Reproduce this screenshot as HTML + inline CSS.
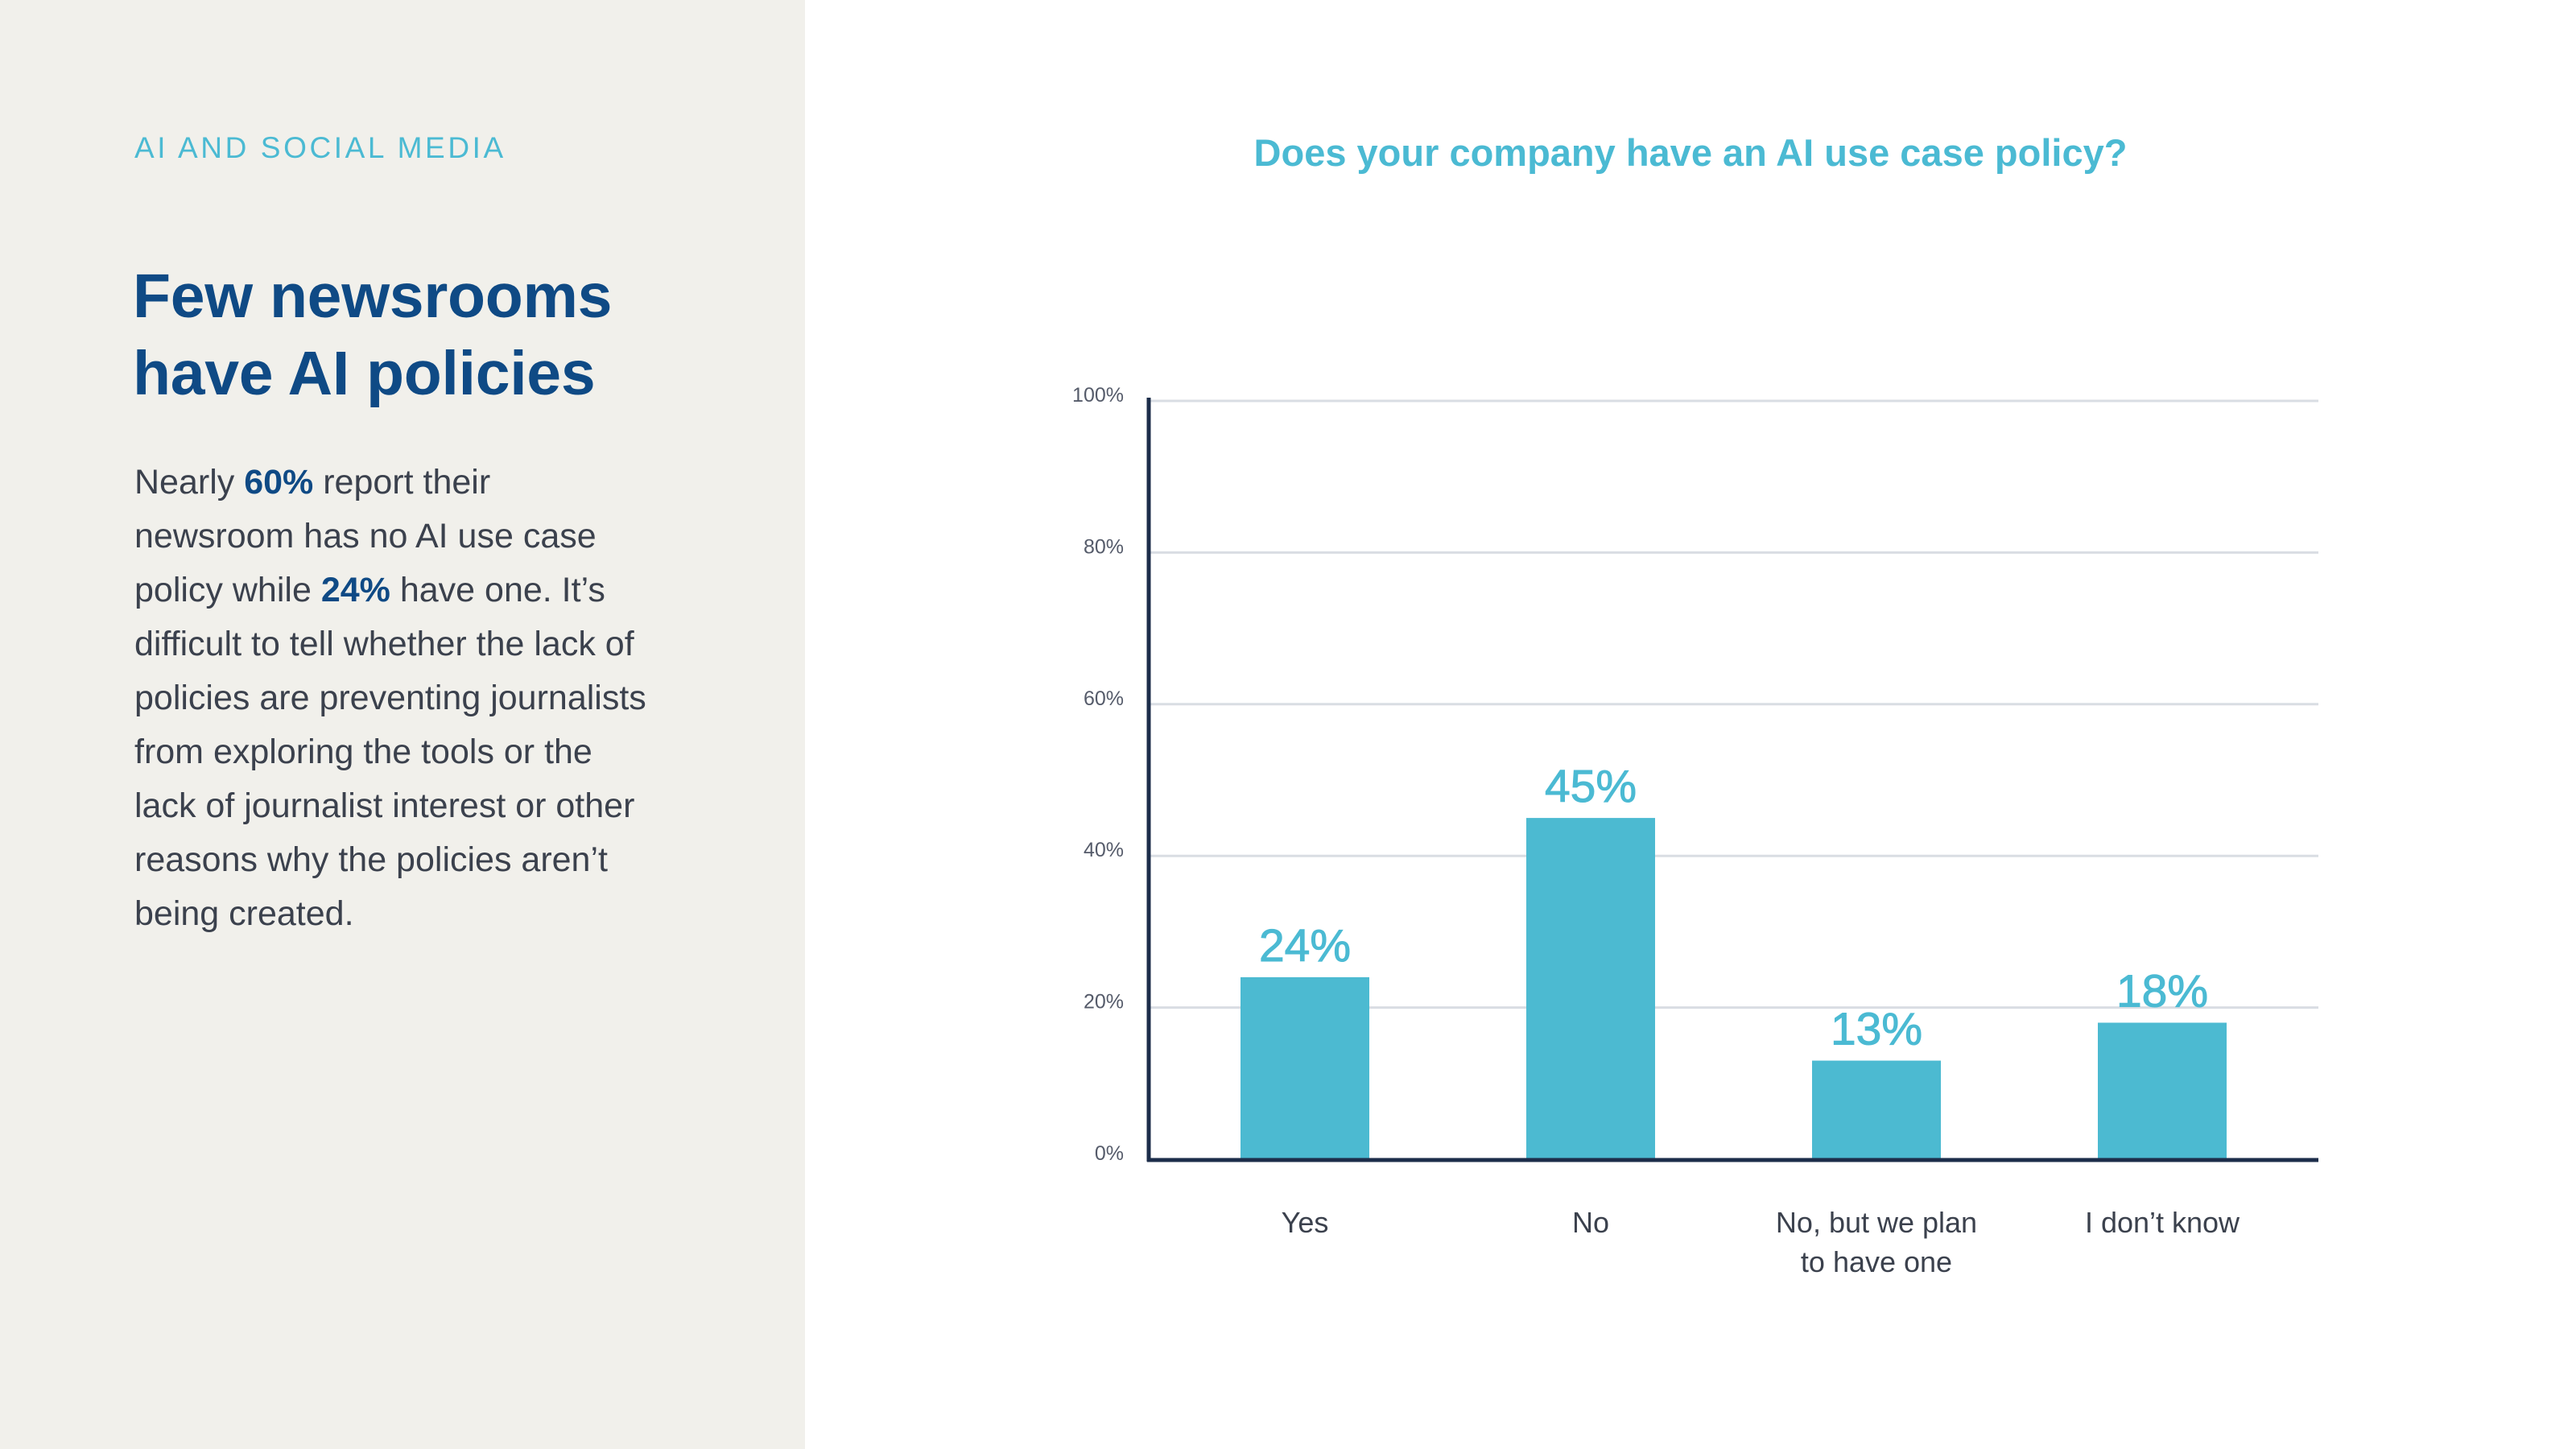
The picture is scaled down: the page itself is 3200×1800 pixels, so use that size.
<!DOCTYPE html>
<html><head><meta charset="utf-8">
<style>
*{margin:0;padding:0;box-sizing:border-box}
body{width:3200px;height:1800px;overflow:hidden;background:#fff;font-family:"Liberation Sans",sans-serif;position:relative}
#left{position:absolute;left:0;top:0;width:1000px;height:1800px;background:#f1f0eb}
#kicker{position:absolute;left:167px;top:163px;font-size:37px;letter-spacing:3.6px;color:#4bbad3;white-space:nowrap}
#headline{position:absolute;left:165px;top:320px;font-size:77px;font-weight:bold;line-height:96px;color:#0f4a85;letter-spacing:-0.3px}
#body{position:absolute;left:167px;top:566px;font-size:43px;line-height:67px;color:#3b414d;white-space:nowrap}
#body b{color:#0f4a85}
#title{position:absolute;left:1300px;width:1600px;top:162px;text-align:center;font-size:47px;font-weight:bold;color:#4bbad3}
svg{position:absolute;left:0;top:0}
</style></head><body>
<div id="left"></div>
<div id="kicker">AI AND SOCIAL MEDIA</div>
<div id="headline">Few newsrooms<br>have AI policies</div>
<div id="body">Nearly <b>60%</b> report their<br>newsroom has no AI use case<br>policy while <b>24%</b> have one. It’s<br>difficult to tell whether the lack of<br>policies are preventing journalists<br>from exploring the tools or the<br>lack of journalist interest or other<br>reasons why the policies aren’t<br>being created.</div>
<div id="title">Does your company have an AI use case policy?</div>
<svg id="chart" width="3200" height="1800"></svg>
<script>
const categories=[["Yes"],["No"],["No, but we plan","to have one"],["I don’t know"]];
const values=[24,45,13,18];
const valueLabels=["24%","45%","13%","18%"];
const ticks=[0,20,40,60,80,100];
const tickLabels=["0%","20%","40%","60%","80%","100%"];
const NS="http://www.w3.org/2000/svg";
const svg=document.getElementById('chart');
const x0=1427,x1=2880,y0=1440,yTop=498;
const y=v=>y0-(y0-yTop)*v/100;
const xc=i=>1621+i*355;
function mk(t,a){const e=document.createElementNS(NS,t);for(const k in a)e.setAttribute(k,a[k]);svg.appendChild(e);return e;}
ticks.forEach((t,i)=>{
  if(t>0){const l=mk('line',{x1:x0,x2:x1,y1:y(t),y2:y(t),stroke:'#d9dde3','stroke-width':3});
  
  }
  const tx=mk('text',{x:1396,y:y(t)+1,'text-anchor':'end','font-size':25,fill:'#555b6a','font-family':'Liberation Sans, sans-serif'});
  tx.textContent=tickLabels[i];
  
  
});
values.forEach((v,i)=>{
  const r=mk('rect',{x:xc(i)-80,y:y(v),width:160,height:y0-y(v),fill:'#4cbad1'});
  
  
  const t=mk('text',{x:xc(i),y:y(v)-20,'text-anchor':'middle','font-size':57,fill:'#4bbad3',stroke:'#4bbad3','stroke-width':1,'font-family':'Liberation Sans, sans-serif'});
  t.textContent=valueLabels[i];
  
  
  categories[i].forEach((s,j)=>{
    const c=mk('text',{x:xc(i),y:1531+j*49,'text-anchor':'middle','font-size':36,fill:'#3b414d','font-family':'Liberation Sans, sans-serif'});
    c.textContent=s;
    
    
  });
});
const ya=mk('line',{x1:x0,x2:x0,y1:yTop-4,y2:y0+3,stroke:'#1c2d4a','stroke-width':5});


const xa=mk('line',{x1:x0-2,x2:x1,y1:y0+1,y2:y0+1,stroke:'#1c2d4a','stroke-width':5});


</script>
</body></html>
